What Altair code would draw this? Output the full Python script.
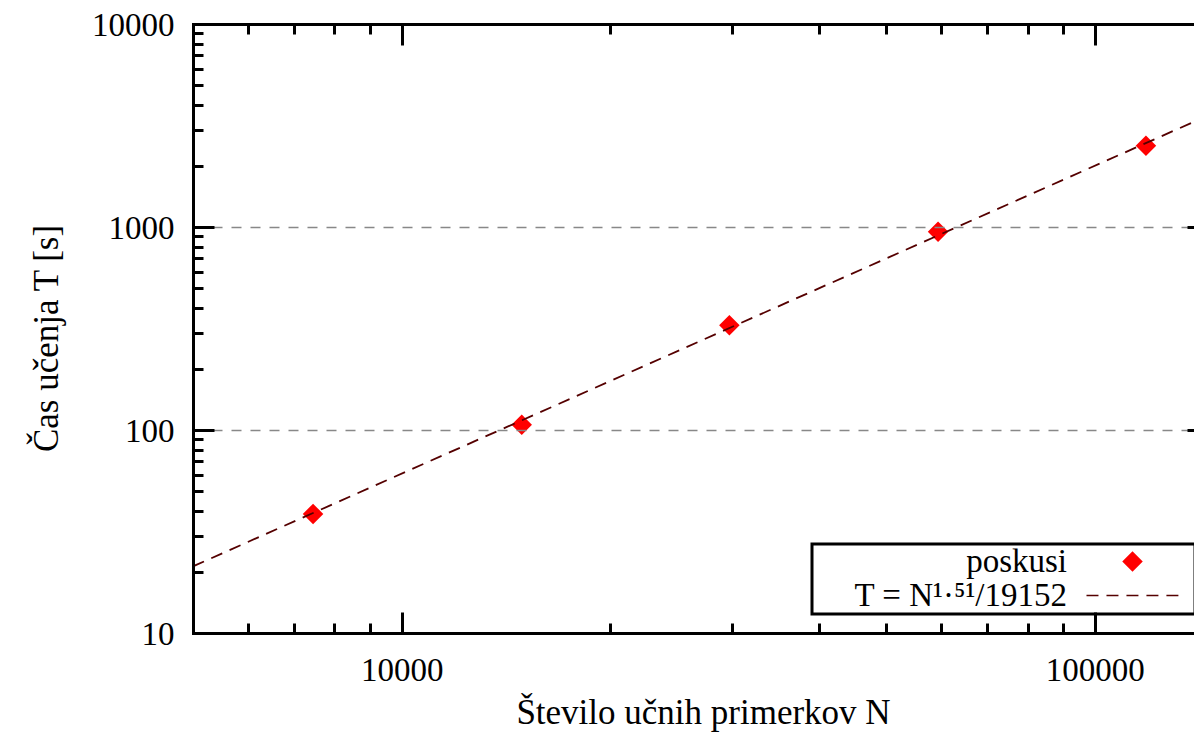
import altair as alt
import pandas as pd

# measured points (N = number of training samples, T = training time [s])
N_exp = [7450, 14900, 29700, 59400, 118500]
T_exp = [38.6, 106, 328, 947, 2512]

# fitted line, read at the left and right edges of the plot
N_fit = [5000, 139000]
T_fit = [21.3, 3300]

series_names = ["poskusi", "T = N¹·⁵¹/19152"]

x_major = [10000, 100000]
x_minor = [6000, 7000, 8000, 9000, 20000, 30000, 40000, 50000, 60000, 70000, 80000, 90000]
y_major = [10, 100, 1000, 10000]
y_minor = [20, 30, 40, 50, 60, 70, 80, 90, 200, 300, 400, 500, 600, 700, 800, 900,
           2000, 3000, 4000, 5000, 6000, 7000, 8000, 9000]

FONT = "Liberation Serif"
FS = 33
TFS = 35

df_exp = pd.DataFrame({"N": N_exp, "T": T_exp, "series": series_names[0]})
df_fit = pd.DataFrame({"N": N_fit, "T": T_fit})

xs = alt.Scale(type="log", domain=[5000, 139000], nice=False)
ys = alt.Scale(type="log", domain=[10, 10000], nice=False)

tick_only = dict(labels=False, domain=False, grid=False, ticks=True,
                 tickColor="black", tickWidth=3, title=None, zindex=1)

dash_path = ("M-4.49,-0.085H-3.32V0.085H-4.49Z M-2.54,-0.085H-1.37V0.085H-2.54Z "
             "M-0.59,-0.085H0.58V0.085H-0.59Z M1.36,-0.085H2.53V0.085H1.36Z "
             "M3.31,-0.085H4.48V0.085H3.31Z M5.95,0")

legend = alt.Legend(orient="none", legendX=619, legendY=520, title=None,
                    labelFont=FONT, labelFontSize=FS, labelColor="black",
                    labelAlign="right", labelOffset={"expr": "-82"}, symbolOffset=303,
                    padding=1, rowPadding=0, fillColor="white", strokeColor="black",
                    symbolSize=420, symbolStrokeWidth=0, labelLimit=0,
                    direction="vertical")

color_scale = alt.Scale(domain=series_names, range=["#ff0000", "#550000"])
shape_scale = alt.Scale(domain=series_names, range=["diamond", dash_path])

points = alt.Chart(df_exp).mark_point(filled=True, opacity=1, size=420).encode(
    x=alt.X("N:Q", scale=xs, axis=alt.Axis(
        orient="bottom", values=x_major, format="d", ticks=False, tickSize=0,
        labelPadding=21, labelFlush=False, domain=True, domainColor="black",
        domainWidth=3, domainCap="square", grid=False,
        title="Število učnih primerkov N", titlePadding=8, titleX=510,
        titleFontSize=TFS, zindex=1)),
    y=alt.Y("T:Q", scale=ys, axis=alt.Axis(
        orient="left", values=y_major, format="d", ticks=False, tickSize=0,
        labelPadding=19, labelFlush=False, labelBaseline="alphabetic", labelOffset=11,
        domain=True, domainColor="black",
        domainWidth=3, domainCap="square", grid=True, gridColor="#888888",
        gridWidth=1.5, gridDash=[10, 9], title="Čas učenja T [s]",
        titlePadding=27, titleY=314, titleFontSize=TFS, zindex=1)),
    color=alt.Color("series:N", scale=color_scale, legend=legend),
    shape=alt.Shape("series:N", scale=shape_scale, legend=legend),
)

fit = alt.Chart(df_fit).mark_line(color="#550000", strokeWidth=1.8,
                                  strokeDash=[12, 8], clip=True).encode(
    x=alt.X("N:Q", scale=xs, axis=alt.Axis(orient="bottom", values=x_major,
                                           offset=-21, tickSize=21, **tick_only)),
    y=alt.Y("T:Q", scale=ys, axis=alt.Axis(orient="left", values=y_major,
                                           offset=-21, tickSize=21, **tick_only)),
)

minor = alt.Chart(df_exp).mark_point(opacity=0).encode(
    x=alt.X("N:Q", scale=xs, axis=alt.Axis(orient="bottom", values=x_minor,
                                           offset=-10, tickSize=10, **tick_only)),
    y=alt.Y("T:Q", scale=ys, axis=alt.Axis(orient="left", values=y_minor,
                                           offset=-10, tickSize=10, **tick_only)),
)

top_border = alt.Chart(df_exp).mark_point(opacity=0).encode(
    x=alt.X("N:Q", scale=xs, axis=alt.Axis(
        orient="top", labels=False, ticks=False, tickSize=0, grid=False, title=None,
        domain=True, domainColor="black", domainWidth=3, domainCap="square", zindex=1)),
    y=alt.Y("T:Q", scale=ys, axis=alt.Axis(orient="right", values=y_major,
                                           offset=-7, tickSize=7, **tick_only)),
)

top_major = alt.Chart(df_exp).mark_point(opacity=0).encode(
    x=alt.X("N:Q", scale=xs, axis=alt.Axis(orient="top", values=x_major,
                                           offset=-21, tickSize=21, **tick_only)),
    y=alt.Y("T:Q", scale=ys, axis=None),
)

top_minor = alt.Chart(df_exp).mark_point(opacity=0).encode(
    x=alt.X("N:Q", scale=xs, axis=alt.Axis(orient="top", values=x_minor,
                                           offset=-10, tickSize=10, **tick_only)),
    y=alt.Y("T:Q", scale=ys, axis=None),
)

chart = alt.layer(points, fit, minor, top_border, top_major, top_minor).resolve_axis(
    x="independent", y="independent"
).properties(
    width=1001, height=609,
    autosize=alt.AutoSizeParams(type="none"),
    padding={"left": 185, "top": 16, "right": 0, "bottom": 104},
).configure_view(stroke=None).configure_axis(
    labelFont=FONT, titleFont=FONT, labelFontSize=FS, titleFontSize=FS,
    labelColor="black", titleColor="black", titleFontWeight="normal",
).configure_legend(strokeWidth=3)

chart.save("out.html", embed_options={"renderer": "svg", "actions": False})
